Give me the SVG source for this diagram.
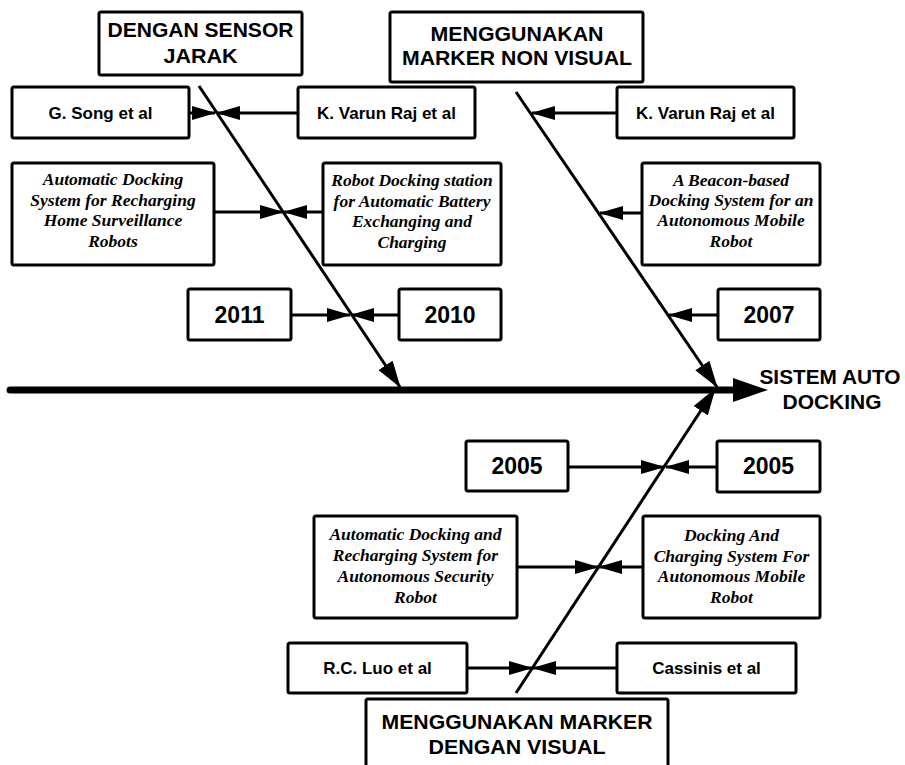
<svg xmlns="http://www.w3.org/2000/svg" width="905" height="765" viewBox="0 0 905 765">
<style>
.box{fill:#fff;stroke:#000;stroke-width:3}
.h{font-family:"Liberation Sans",Arial,sans-serif;font-weight:bold;font-size:20px;text-anchor:middle;fill:#000}
.n{font-family:"Liberation Sans",Arial,sans-serif;font-weight:bold;font-size:17px;text-anchor:middle;fill:#000}
.y{font-family:"Liberation Sans",Arial,sans-serif;font-weight:bold;font-size:23px;text-anchor:middle;fill:#000}
.t{font-family:"Liberation Serif","Times New Roman",serif;font-weight:bold;font-style:italic;font-size:17.5px;text-anchor:middle;fill:#000}
.c{stroke:#000;stroke-width:3;fill:none}
</style>
<defs>
<marker id="a" markerUnits="userSpaceOnUse" markerWidth="24" markerHeight="14" refX="23" refY="7" orient="auto"><path d="M0,0 L24,7 L0,14 z" fill="#000"/></marker>
<marker id="b" markerUnits="userSpaceOnUse" markerWidth="27" markerHeight="17" refX="26" refY="8.5" orient="auto"><path d="M0,0 L27,8.5 L0,17 z" fill="#000"/></marker>
</defs>
<g id="connectors">
<line x1="10" y1="390" x2="740" y2="390" stroke="#000" stroke-width="7" stroke-linecap="round"/>
<polygon points="733,378 768,390 733,402" fill="#000"/>
<line class="c" x1="199" y1="86" x2="400" y2="387" marker-end="url(#b)"/>
<line class="c" x1="516" y1="92" x2="717" y2="387" marker-end="url(#b)"/>
<line class="c" x1="516" y1="693" x2="715" y2="389" marker-end="url(#b)"/>
<line class="c" x1="298" y1="113" x2="217" y2="113" marker-end="url(#a)"/>
<line class="c" x1="189" y1="113" x2="215" y2="113" marker-end="url(#a)"/>
<line class="c" x1="214" y1="212" x2="283" y2="212" marker-end="url(#a)"/>
<line class="c" x1="323" y1="212" x2="284" y2="212" marker-end="url(#a)"/>
<line class="c" x1="291" y1="315" x2="350" y2="315" marker-end="url(#a)"/>
<line class="c" x1="399" y1="315" x2="351" y2="315" marker-end="url(#a)"/>
<line class="c" x1="617" y1="113" x2="532" y2="113" marker-end="url(#a)"/>
<line class="c" x1="642" y1="213" x2="600" y2="213" marker-end="url(#a)"/>
<line class="c" x1="718" y1="315" x2="669" y2="315" marker-end="url(#a)"/>
<line class="c" x1="568" y1="467" x2="664" y2="467" marker-end="url(#a)"/>
<line class="c" x1="717" y1="467" x2="666" y2="467" marker-end="url(#a)"/>
<line class="c" x1="517" y1="567" x2="598" y2="567" marker-end="url(#a)"/>
<line class="c" x1="643" y1="567" x2="599" y2="567" marker-end="url(#a)"/>
<line class="c" x1="467" y1="668" x2="532" y2="668" marker-end="url(#a)"/>
<line class="c" x1="617" y1="668" x2="533" y2="668" marker-end="url(#a)"/>
</g>
<g id="h1"><rect class="box" x="99" y="12" width="203" height="63" rx="2"/>
<text class="h" x="200.5" y="37" textLength="186" lengthAdjust="spacingAndGlyphs">DENGAN SENSOR</text>
<text class="h" x="200.5" y="63" textLength="74" lengthAdjust="spacingAndGlyphs">JARAK</text></g>
<g id="h2"><rect class="box" x="390" y="12" width="253" height="70" rx="2"/>
<text class="h" x="517" y="41" textLength="173" lengthAdjust="spacingAndGlyphs">MENGGUNAKAN</text>
<text class="h" x="517" y="65" textLength="230" lengthAdjust="spacingAndGlyphs">MARKER NON VISUAL</text></g>
<g id="h3"><rect class="box" x="366" y="699" width="302" height="80" rx="2"/>
<text class="h" x="517" y="729" textLength="271" lengthAdjust="spacingAndGlyphs">MENGGUNAKAN MARKER</text>
<text class="h" x="517" y="754" textLength="177" lengthAdjust="spacingAndGlyphs">DENGAN VISUAL</text></g>
<g id="target">
<text class="h" x="830" y="384" textLength="141" lengthAdjust="spacingAndGlyphs">SISTEM AUTO</text>
<text class="h" x="832" y="409" textLength="99" lengthAdjust="spacingAndGlyphs">DOCKING</text></g>
<g id="n1"><rect class="box" x="12" y="87" width="177" height="51" rx="2"/><text class="n" x="100.5" y="119">G. Song et al</text></g>
<g id="n2"><rect class="box" x="298" y="87" width="177" height="51" rx="2"/><text class="n" x="386.5" y="119">K. Varun Raj et al</text></g>
<g id="n3"><rect class="box" x="617" y="87" width="177" height="51" rx="2"/><text class="n" x="705.5" y="119">K. Varun Raj et al</text></g>
<g id="p1"><rect class="box" x="12" y="163" width="202" height="102" rx="2"/>
<text class="t" x="113" y="185">Automatic Docking</text>
<text class="t" x="113" y="206">System for Recharging</text>
<text class="t" x="113" y="226">Home Surveillance</text>
<text class="t" x="113" y="247">Robots</text></g>
<g id="p2"><rect class="box" x="323" y="163" width="178" height="102" rx="2"/>
<text class="t" x="412" y="186">Robot Docking station</text>
<text class="t" x="412" y="207">for Automatic Battery</text>
<text class="t" x="412" y="227">Exchanging and</text>
<text class="t" x="412" y="248">Charging</text></g>
<g id="p3"><rect class="box" x="642" y="163" width="178" height="102" rx="2"/>
<text class="t" x="731" y="186">A Beacon-based</text>
<text class="t" x="731" y="206">Docking System for an</text>
<text class="t" x="731" y="226">Autonomous Mobile</text>
<text class="t" x="731" y="247">Robot</text></g>
<g id="y1"><rect class="box" x="188" y="289" width="103" height="51" rx="2"/><text class="y" x="239.5" y="323">2011</text></g>
<g id="y2"><rect class="box" x="399" y="289" width="102" height="51" rx="2"/><text class="y" x="450" y="323">2010</text></g>
<g id="y3"><rect class="box" x="718" y="289" width="102" height="51" rx="2"/><text class="y" x="769" y="323">2007</text></g>
<g id="y4"><rect class="box" x="466" y="441" width="102" height="50" rx="2"/><text class="y" x="517" y="474">2005</text></g>
<g id="y5"><rect class="box" x="717" y="441" width="103" height="51" rx="2"/><text class="y" x="768.5" y="474">2005</text></g>
<g id="p4"><rect class="box" x="314" y="516" width="203" height="102" rx="2"/>
<text class="t" x="415.5" y="540">Automatic Docking and</text>
<text class="t" x="415.5" y="561">Recharging System for</text>
<text class="t" x="415.5" y="582">Autonomous Security</text>
<text class="t" x="415.5" y="603">Robot</text></g>
<g id="p5"><rect class="box" x="643" y="516" width="177" height="102" rx="2"/>
<text class="t" x="731.5" y="541">Docking And</text>
<text class="t" x="731.5" y="562">Charging System For</text>
<text class="t" x="731.5" y="582">Autonomous Mobile</text>
<text class="t" x="731.5" y="603">Robot</text></g>
<g id="n4"><rect class="box" x="288" y="643" width="179" height="50" rx="2"/><text class="n" x="377.5" y="674">R.C. Luo et al</text></g>
<g id="n5"><rect class="box" x="617" y="643" width="179" height="50" rx="2"/><text class="n" x="706.5" y="674">Cassinis et al</text></g>
</svg>
